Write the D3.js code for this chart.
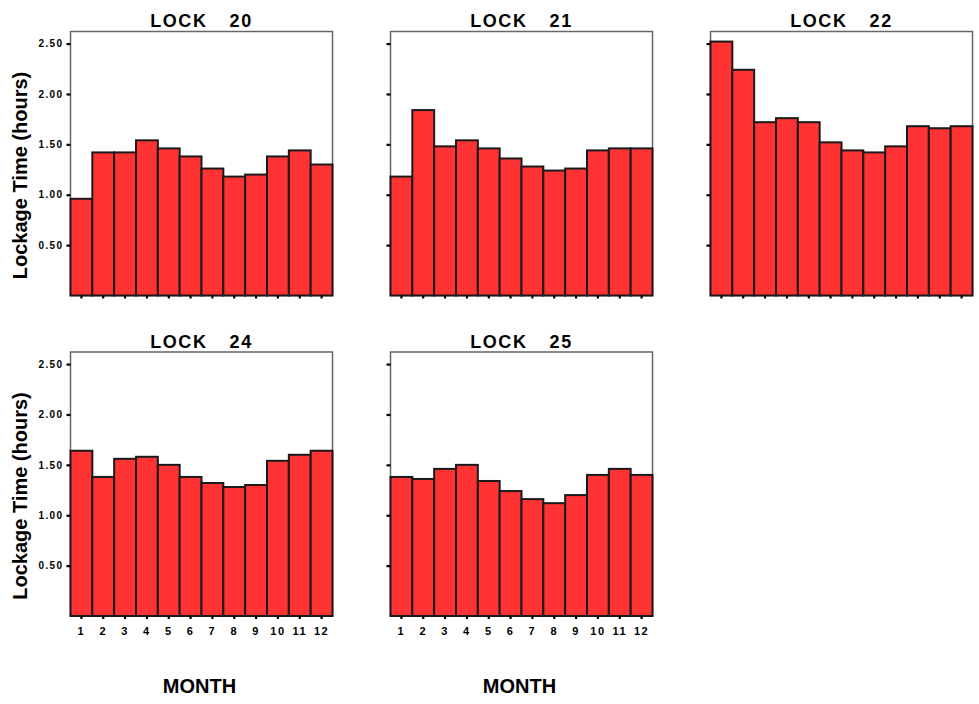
<!DOCTYPE html>
<html>
<head>
<meta charset="utf-8">
<script src="https://cdn.jsdelivr.net/npm/d3@7"></script>
<style>
  html, body { margin: 0; padding: 0; background: #ffffff; }
  svg { display: block; }
  text { font-family: "Liberation Sans", Arial, Helvetica, sans-serif; }
</style>
</head>
<body>
<svg id="chart" width="979" height="704"></svg>
<script>
// ---- data ----
const months = ["1","2","3","4","5","6","7","8","9","10","11","12"];
const lockNames = ["20", "21", "22", "24", "25"];
const lock20 = [0.96, 1.42, 1.42, 1.54, 1.46, 1.38, 1.26, 1.18, 1.20, 1.38, 1.44, 1.30];
const lock21 = [1.18, 1.84, 1.48, 1.54, 1.46, 1.36, 1.28, 1.24, 1.26, 1.44, 1.46, 1.46];
const lock22 = [2.52, 2.24, 1.72, 1.76, 1.72, 1.52, 1.44, 1.42, 1.48, 1.68, 1.66, 1.68];
const lock24 = [1.64, 1.38, 1.56, 1.58, 1.50, 1.38, 1.32, 1.28, 1.30, 1.54, 1.60, 1.64];
const lock25 = [1.38, 1.36, 1.46, 1.50, 1.34, 1.24, 1.16, 1.12, 1.20, 1.40, 1.46, 1.40];
const yTicks = [0.5, 1.0, 1.5, 2.0, 2.5];
const yMax = 2.62;
const yLabel = "Lockage Time (hours)";
const xLabel = "MONTH";
const titlePrefix = "LOCK";

const seriesList = [lock20, lock21, lock22, lock24, lock25];

// ---- layout ----
const panelW = 262, panelH = 264;
const colX = [70.5, 390.5, 710.5];
const rowY = [31.5, 352];
const barFill = "#ff3333";

const svg = d3.select("#chart");

const x = d3.scaleBand().domain(months).range([0, panelW]).padding(0);
const y = d3.scaleLinear().domain([0, yMax]).range([panelH, 0]);

seriesList.forEach((vals, i) => {
  const col = i < 3 ? i : i - 3;
  const row = i < 3 ? 0 : 1;
  const g = svg.append("g").attr("transform", `translate(${colX[col]},${rowY[row]})`);

  // frame
  g.append("rect")
    .attr("x", 0).attr("y", 0).attr("width", panelW).attr("height", panelH)
    .attr("fill", "none").attr("stroke", "#666").attr("stroke-width", 1.5);

  // bars
  g.selectAll("rect.bar")
    .data(vals.map((v, k) => ({ m: months[k], v })))
    .join("rect")
    .attr("class", "bar")
    .attr("x", d => x(d.m))
    .attr("width", x.bandwidth())
    .attr("y", d => y(d.v))
    .attr("height", d => y(0) - y(d.v))
    .attr("fill", barFill)
    .attr("stroke", "#1a1a1a")
    .attr("stroke-width", 2);

  // y axis
  const yAxis = d3.axisLeft(y).tickValues(yTicks).tickSize(4).tickPadding(3)
    .tickFormat(col === 0 ? d3.format(".2f") : () => "");
  const ya = g.append("g").call(yAxis);
  ya.select(".domain").remove();
  ya.selectAll(".tick line").attr("stroke", "#000").attr("stroke-width", 2.2);
  ya.selectAll(".tick text")
    .attr("fill", "#000").attr("font-size", 10).attr("font-weight", "bold")
    .attr("letter-spacing", "1.4px");

  // x axis
  const xAxis = d3.axisBottom(x).tickSize(3).tickPadding(8)
    .tickFormat(row === 1 ? (d => d) : () => "");
  const xa = g.append("g").attr("transform", `translate(0,${panelH})`).call(xAxis);
  xa.select(".domain").remove();
  xa.selectAll(".tick line").attr("stroke", "#000").attr("stroke-width", 2.2);
  xa.selectAll(".tick text")
    .attr("fill", "#000").attr("font-size", 11).attr("font-weight", "bold")
    .attr("letter-spacing", "1.5px");

  // title
  const t = g.append("text")
    .attr("x", panelW / 2).attr("y", -4.5)
    .attr("text-anchor", "middle")
    .attr("font-size", 18).attr("font-weight", "bold")
    .attr("letter-spacing", "1.6px")
    .attr("fill", "#000");
  t.append("tspan").text(titlePrefix);
  t.append("tspan").attr("dx", 22).text(lockNames[i]);

  // y label
  if (col === 0) {
    g.append("text")
      .attr("transform", `translate(${27 - colX[col]},${panelH / 2 + 12}) rotate(-90)`)
      .attr("text-anchor", "middle")
      .attr("font-size", 20).attr("font-weight", "bold")
      .attr("fill", "#000")
      .text(yLabel);
  }

  // x label
  if (row === 1) {
    g.append("text")
      .attr("x", panelW / 2 - 2).attr("y", panelH + 77)
      .attr("text-anchor", "middle")
      .attr("font-size", 20).attr("font-weight", "bold")
      .attr("fill", "#000")
      .text(xLabel);
  }
});
</script>
</body>
</html>
